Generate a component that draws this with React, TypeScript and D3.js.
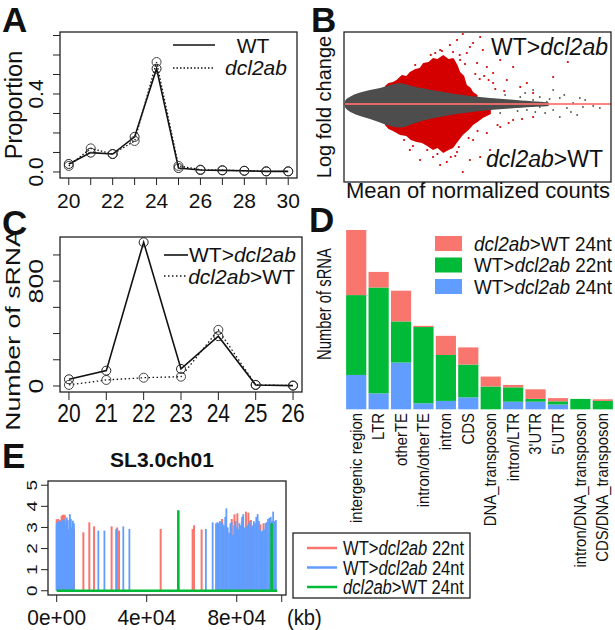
import React from 'react';
import * as d3 from 'd3';

const FONT = "'Liberation Sans', Arial, Helvetica, sans-serif";

// ---------- Panel A ----------
const lenA = [20, 21, 22, 23, 24, 25, 26, 27, 28, 29, 30];
const propWT = [0.041, 0.099, 0.092, 0.18, 0.53, 0.02, 0.01, 0.008, 0.006, 0.003, 0.003];
const propDcl = [0.031, 0.121, 0.092, 0.159, 0.564, 0.031, 0.012, 0.009, 0.006, 0.003, 0.003];
const tickAy = [0, 0.1, 0.2, 0.3, 0.4, 0.5, 0.6, 0.7];
const labAy = [0, 0.4];
const labAx = [20, 22, 24, 26, 28, 30];

// ---------- Panel B (MA plot) ----------
const maX = [0.02, 0.05, 0.1, 0.25, 0.47, 0.7, 0.92, 1.08, 1.26, 1.48, 1.71, 2.04, 2.38, 2.83, 3.28, 3.73, 4.25, 4.6];
const maGrayUp = [0.3, 0.5, 0.65, 1.0, 1.3, 1.5, 1.73, 1.95, 2.17, 1.85, 1.6, 1.35, 1.07, 0.8, 0.6, 0.45, 0.25, 0.15];
const maGrayLo = [-0.3, -0.5, -0.7, -1.05, -1.35, -1.65, -2.05, -2.25, -2.43, -2.1, -1.7, -1.4, -1.1, -0.8, -0.6, -0.45, -0.3, -0.2];
const maRedUpX = [0.92, 1.0, 1.1, 1.18, 1.3, 1.4, 1.48, 1.6, 1.7, 1.78, 1.9, 2.0, 2.1, 2.23, 2.35, 2.46, 2.55, 2.61, 2.7, 2.76, 2.85, 2.9, 3.0];
const maRedUpY = [1.8, 2.1, 2.2, 2.4, 2.9, 2.8, 3.2, 3.5, 3.6, 4.1, 4.2, 4.6, 4.5, 4.9, 4.5, 4.6, 3.9, 3.2, 2.8, 1.9, 1.6, 1.2, 0.9];
const maRedLoX = [0.92, 1.0, 1.1, 1.26, 1.4, 1.5, 1.63, 1.75, 1.87, 2.0, 2.1, 2.23, 2.35, 2.45, 2.55, 2.67, 2.8, 2.9, 3.0, 3.12, 3.3];
const maRedLoY = [-2.1, -2.5, -2.7, -3.1, -3.2, -3.6, -3.8, -3.9, -4.2, -4.6, -4.4, -4.9, -4.6, -4.4, -3.8, -3.1, -2.6, -2.1, -1.8, -1.4, -1.0];
const redDotX = [2.9, 3.06, 2.76, 2.61, 3.12, 3.21, 3.35, 3.51, 3.66, 3.8, 3.96, 4.11, 4.25, 4.7, 5.03, 3.35, 2.99, 2.83, 2.54, 2.67, 2.38, 2.16,
  2.31, 2.67, 2.0, 1.87, 2.9, 3.21, 3.51, 3.8, 4.25, 2.16, 2.54, 3.06, 2.83, 3.28, 1.71, 1.48, 3.15, 3.4, 2.5, 3.7,
  2.05, 2.2, 2.45, 2.6, 2.72, 2.95, 3.05, 3.25, 1.95, 1.6, 2.8, 3.0, 3.45, 2.4, 2.58, 2.1, 1.55, 1.35, 3.6, 4.0];
const redDotY = [6.1, 6.7, 5.1, 4.4, 5.4, 3.7, 3.1, 4.4, 2.4, 3.7, 1.7, 2.1, 1.1, 2.7, 4.2, 2.1, 4.1, 5.7, 6.4, 7.0, 5.9, 5.4,
  -5.8, -6.8, -5.3, -4.6, -3.6, -2.9, -2.3, -1.6, -1.3, -6.1, -4.8, -5.3, -5.6, -4.6, -5.6, -4.6, 2.8, 1.5, -5.2, -1.9,
  5.1, 5.3, 5.2, 4.9, 4.0, 3.0, 2.5, 2.4, 4.9, 3.9, -3.4, -2.7, -2.1, -5.3, -4.3, -5.0, -4.2, -3.6, 1.3, -1.5];
const grayDotX = [4.25, 4.4, 4.56, 4.7, 4.85, 5.01, 5.15, 5.37, 5.6, 5.75, 4.7, 4.85, 5.24, 4.25, 4.11, 3.96, 3.8, 4.4, 3.62, 3.51, 5.42, 4.52, 4.07, 4.95, 5.1, 3.9, 4.62, 5.3, 4.3];
const grayDotY = [0.4, -0.3, 0.2, -0.6, 0.6, -0.4, 0.1, -0.3, -0.2, -0.4, 1.4, -1.3, -1.1, 1.4, -0.6, 0.7, -0.3, 0.7, 0.9, -0.9, 0.4, -0.9, 1.1, 0.9, -0.8, -0.7, 0.5, 0.6, -0.8];

// ---------- Panel C ----------
const lenC = [20, 21, 22, 23, 24, 25, 26];
const cntWTgt = [51, 117, 1097, 130, 380, 8, 3];
const cntDclGt = [8, 46, 63, 71, 428, 8, 3];
const tickCy = [0, 200, 400, 600, 800, 1000];
const labCy = [0, 800];

// ---------- Panel D ----------
const regions = ['intergenic region', 'LTR', 'otherTE', 'intron/otherTE', 'intron', 'CDS', 'DNA_transposon', 'intron/LTR', "3'UTR", "5'UTR", 'intron/DNA_transposon', 'CDS/DNA_transposon'];
const dWT24 = [86, 40, 117, 15, 21, 30, 0, 19, 19, 12, 0, 0];
const dWT22 = [200, 265, 103, 191, 115, 82, 57, 36, 7, 8, 26, 21];
const dDcl24 = [163, 39, 77, 3, 48, 43, 25, 6, 24, 8, 0, 4];

// ---------- Panel E ----------
const e22Pos = [0, 700, 1400, 2200, 2700, 3200, 3600, 4400, 4900, 7700, 11850, 14500, 16600, 24400, 26900, 27700, 46200, 60400, 61000, 64400,
  71400, 73500, 75000, 77800, 79000, 80300, 82300, 84100, 85200, 86300, 88700, 90500, 91900];
const e22Val = [3.39, 3.4, 3.35, 3.55, 3.6, 3.6, 3.58, 2.93, 2.9, 2.93, 2.77, 3.24, 3.05, 3.05, 3.0, 2.85, 2.93, 2.93, 3.1, 2.9,
  3.0, 3.4, 3.0, 3.4, 3.62, 3.67, 3.3, 3.75, 3.7, 3.35, 3.2, 3.15, 3.2];
const e24Pos = [0, 450, 900, 1350, 1800, 2250, 2700, 3150, 3600, 4050, 4500, 4950, 5400, 5850, 6300, 6750, 7200, 7650,
  18500, 21200, 26400, 29600, 32300, 66300, 69300,
  70800, 71400, 72000, 72500, 73100, 73700, 74300, 74900, 75400, 76000, 76600, 77200, 77700, 78300, 78900, 79500, 80100, 80600, 81200, 81800,
  82400, 82900, 83500, 84100, 84700, 85300, 85800, 86400, 87000, 87600, 88100, 88700, 89300, 89900, 90500, 91000, 91600, 92200, 92800, 93300,
  93900, 94500, 95100, 95700, 96200, 96800, 97400];
const e24Val = [3.2, 3.25, 3.3, 3.3, 3.25, 3.3, 3.35, 3.4, 3.3, 3.1, 3.47, 3.35, 2.9, 3.63, 3.4, 3.0, 3.32, 3.2,
  2.85, 2.85, 2.93, 3.05, 2.93, 2.93, 3.24,
  3.2, 3.25, 3.2, 3.3, 3.28, 3.2, 3.1, 3.5, 3.9, 3.0, 2.75, 3.2, 3.25, 2.65, 3.1, 3.3, 3.0, 2.9, 3.2, 3.1,
  3.5, 3.63, 3.0, 2.95, 3.1, 3.2, 3.3, 3.0, 3.1, 3.3, 3.2, 3.5, 3.63, 3.3, 2.9, 2.8, 2.85, 2.9, 3.2, 3.25,
  3.4, 3.45, 3.5, 3.3, 3.75, 3.3, 3.35];
const eDclPos = [0, 54000, 54050, 54100, 95450, 95500, 95550, 98000];
const eDclVal = [0, 0, 3.82, 0, 0, 3.2, 0, 0];
const tickEy = [0, 1, 2, 3, 4, 5];
const tickEx = [0, 40000, 80000, 100000];
const labEx = [0, 40000, 80000];

const PINK = '#F8766D';
const GREEN = '#00BA38';
const BLUE = '#619CFF';

type TP = { x: number; y: number; size: number; anchor?: string; rot?: number; sx?: number; sy?: number; weight?: string; dy?: string; children: any };
function Txt({ x, y, size, anchor = 'start', rot = 0, sx = 1, sy = 1, weight = 'normal', dy, children }: TP) {
  return (
    <g transform={`translate(${x},${y}) scale(${sx},${sy}) rotate(${rot})`}>
      <text fontSize={size} textAnchor={anchor} fontWeight={weight} dy={dy} fontFamily={FONT} fill="#111">{children}</text>
    </g>
  );
}
const I = ({ children }: any) => <tspan fontStyle="italic">{children}</tspan>;

export default function App() {
  // Panel A
  const xA = d3.scaleLinear().domain([19.6, 30.4]).range([60, 297]);
  const yA = d3.scaleLinear().domain([-0.031, 0.718]).range([178, 32]);
  const lineA = d3.line<number>().x((_, i) => xA(lenA[i])).y((d) => yA(d));

  // Panel B
  const xB = d3.scaleLinear().domain([0, 6]).range([344, 611]);
  const yB = d3.scaleLinear().domain([-7.8, 7.2]).range([182, 32]);
  const grayArea = d3.area<number>().x((_, i) => xB(maX[i])).y0((_, i) => yB(maGrayLo[i])).y1((d) => yB(d)).curve(d3.curveBasis);
  const redUp = d3.area<number>().x((_, i) => xB(maRedUpX[i])).y0(yB(0)).y1((d) => yB(d));
  const redLo = d3.area<number>().x((_, i) => xB(maRedLoX[i])).y0(yB(0)).y1((d) => yB(d));

  // Panel C
  const xC = d3.scaleLinear().domain([19.76, 26.24]).range([60, 302]);
  const yC = d3.scaleLinear().domain([-46, 1137]).range([392, 237]);
  const lineC = d3.line<number>().x((_, i) => xC(lenC[i])).y((d) => yC(d));

  // Panel D
  const xD = d3.scaleBand<string>().domain(regions).range([345, 614]).paddingInner(0.1).paddingOuter(0.05);
  const yD = d3.scaleLinear().domain([0, 449]).range([409.3, 230]);
  const rows = regions.map((r, i) => ({ r, b: dWT24[i], g: dWT22[i], p: dDcl24[i] }));
  const stack = d3.stack<any>().keys(['b', 'g', 'p'])(rows);
  const stackCol: Record<string, string> = { b: BLUE, g: GREEN, p: PINK };
  const legD = [
    { c: PINK, t: <><I>dcl2ab</I>&gt;WT 24nt</> },
    { c: GREEN, t: <>WT&gt;<I>dcl2ab</I> 22nt</> },
    { c: BLUE, t: <>WT&gt;<I>dcl2ab</I> 24nt</> },
  ];

  // Panel E
  const xE = d3.scaleLinear().domain([-3866, 101900]).range([48, 286]);
  const yE = d3.scaleLinear().domain([-0.2, 5.2]).range([595, 481]);
  const lineE = d3.line<number>().x((_, i) => xE(eDclPos[i])).y((d) => yE(d));
  const legE = [
    { c: PINK, t: <>WT&gt;<I>dcl2ab</I> 22nt</> },
    { c: BLUE, t: <>WT&gt;<I>dcl2ab</I> 24nt</> },
    { c: GREEN, t: <><I>dcl2ab</I>&gt;WT 24nt</> },
  ];

  const axisStroke = '#222';

  return (
    <svg width={615} height={630} style={{ position: 'absolute', left: 0, top: 0, background: '#fff' }} fontFamily={FONT}>
      <rect width={615} height={630} fill="#fff" />
      <defs>
        <clipPath id="clipB"><rect x={344} y={32} width={267} height={150} /></clipPath>
        <clipPath id="clipE"><rect x={48} y={481} width={238} height={114} /></clipPath>
      </defs>

      {/* ===== Panel A ===== */}
      <Txt x={2} y={32} size={35} weight="bold">A</Txt>
      {lenA.map((v) => <line key={'ax' + v} x1={xA(v)} x2={xA(v)} y1={178} y2={185} stroke={axisStroke} />)}
      {labAx.map((v) => <Txt key={'axl' + v} x={xA(v)} y={208} size={21} anchor="middle">{v}</Txt>)}
      {tickAy.map((v) => <line key={'ay' + v} x1={60} x2={53} y1={yA(v)} y2={yA(v)} stroke={axisStroke} />)}
      {labAy.map((v) => <Txt key={'ayl' + v} x={43} y={yA(v)} size={21} anchor="middle" rot={-90}>{v.toFixed(1)}</Txt>)}
      <Txt x={21.5} y={105} size={23.5} anchor="middle" rot={-90}>Proportion</Txt>
      <path d={lineA(propDcl) || ''} fill="none" stroke="#111" strokeWidth={1.3} strokeDasharray="1.5,2" />
      <path d={lineA(propWT) || ''} fill="none" stroke="#111" strokeWidth={1.6} />
      {propDcl.map((d, i) => <circle key={'cd' + i} cx={xA(lenA[i])} cy={yA(d)} r={4.5} fill="none" stroke="#444" strokeWidth={1} />)}
      {propWT.map((d, i) => <circle key={'cw' + i} cx={xA(lenA[i])} cy={yA(d)} r={4.5} fill="none" stroke="#222" strokeWidth={1} />)}
      <line x1={173} x2={215} y1={45} y2={45} stroke="#111" strokeWidth={1.6} />
      <line x1={173} x2={215} y1={68} y2={68} stroke="#111" strokeWidth={1.3} strokeDasharray="1.5,2" />
      <Txt x={253} y={53} size={21} anchor="middle">WT</Txt>
      <Txt x={256} y={75} size={21} anchor="middle"><I>dcl2ab</I></Txt>
      <rect x={60} y={32} width={237} height={146} fill="none" stroke={axisStroke} strokeWidth={1.3} />

      {/* ===== Panel B ===== */}
      <Txt x={311} y={32} size={35} weight="bold">B</Txt>
      <g clipPath="url(#clipB)">
        <path d={redUp(maRedUpY) || ''} fill="#D40000" />
        <path d={redLo(maRedLoY) || ''} fill="#D40000" />
        {redDotX.map((x, i) => <circle key={'rd' + i} cx={xB(x)} cy={yB(redDotY[i])} r={1.1} fill="#D40000" />)}
        <path d={grayArea(maGrayUp) || ''} fill="#4D4D4D" />
        {grayDotX.map((x, i) => <circle key={'gd' + i} cx={xB(x)} cy={yB(grayDotY[i])} r={0.9} fill="#4D4D4D" />)}
        <line x1={xB(0)} x2={xB(6)} y1={yB(0)} y2={yB(0)} stroke="#FF6F6F" strokeWidth={1.8} opacity={0.85} />
      </g>
      <rect x={344} y={32} width={267} height={150} fill="none" stroke={axisStroke} strokeWidth={1.3} />
      <Txt x={608} y={55} size={23} anchor="end">WT&gt;<I>dcl2ab</I></Txt>
      <Txt x={603} y={167} size={23} anchor="end"><I>dcl2ab</I>&gt;WT</Txt>
      <Txt x={331} y={107} size={20} anchor="middle" rot={-90}>Log fold change</Txt>
      <Txt x={478} y={198} size={22} anchor="middle">Mean of normalized counts</Txt>

      {/* ===== Panel C ===== */}
      <Txt x={2} y={235} size={35} weight="bold">C</Txt>
      {lenC.map((v) => <line key={'cx' + v} x1={xC(v)} x2={xC(v)} y1={392} y2={400} stroke={axisStroke} />)}
      {lenC.map((v) => <Txt key={'cxl' + v} x={xC(v)} y={422} size={21} sy={1.27} anchor="middle">{v}</Txt>)}
      {tickCy.map((v) => <line key={'cy' + v} x1={60} x2={53} y1={yC(v)} y2={yC(v)} stroke={axisStroke} />)}
      {labCy.map((v) => <Txt key={'cyl' + v} x={43} y={yC(v)} size={21} sy={1.27} anchor="middle" rot={-90}>{v}</Txt>)}
      <Txt x={20} y={330} size={21} sy={1.27} anchor="middle" rot={-90}>Number of sRNA</Txt>
      <path d={lineC(cntDclGt) || ''} fill="none" stroke="#111" strokeWidth={1.3} strokeDasharray="1.5,2.5" />
      <path d={lineC(cntWTgt) || ''} fill="none" stroke="#111" strokeWidth={1.6} />
      {cntDclGt.map((d, i) => <circle key={'ccd' + i} cx={xC(lenC[i])} cy={yC(d)} r={4.5} fill="none" stroke="#444" strokeWidth={1} />)}
      {cntWTgt.map((d, i) => <circle key={'ccw' + i} cx={xC(lenC[i])} cy={yC(d)} r={4.5} fill="none" stroke="#222" strokeWidth={1} />)}
      <line x1={164} x2={188} y1={255} y2={255} stroke="#111" strokeWidth={1.6} />
      <line x1={164} x2={188} y1={276} y2={276} stroke="#111" strokeWidth={1.3} strokeDasharray="1.5,2.5" />
      <Txt x={189} y={262} size={21}>WT&gt;<I>dcl2ab</I></Txt>
      <Txt x={295} y={284} size={21} anchor="end"><I>dcl2ab</I>&gt;WT</Txt>
      <rect x={60} y={237} width={242} height={155} fill="none" stroke={axisStroke} strokeWidth={1.3} />

      {/* ===== Panel D ===== */}
      <Txt x={309} y={232} size={35} weight="bold">D</Txt>
      {stack.map((s) => (
        <g key={s.key} fill={stackCol[s.key]}>
          {s.map((d, i) => (
            <rect key={i} x={xD(regions[i])} width={xD.bandwidth()} y={yD(d[1])} height={Math.max(0, yD(d[0]) - yD(d[1]))} />
          ))}
        </g>
      ))}
      {regions.map((r) => (
        <Txt key={'dl' + r} x={(xD(r) || 0) + xD.bandwidth() / 2} y={413} size={16} sy={0.93} anchor="end" rot={-90} dy="0.35em">{r}</Txt>
      ))}
      <Txt x={331} y={304} size={20} sy={0.74} anchor="middle" rot={-90}>Number of sRNA</Txt>
      {legD.map((l, i) => (
        <g key={'ld' + i}>
          <rect x={435} y={236 + i * 21.5} width={27} height={15} fill={l.c} />
          <Txt x={474} y={250.5 + i * 21.5} size={21} sx={0.9}>{l.t}</Txt>
        </g>
      ))}

      {/* ===== Panel E ===== */}
      <Txt x={2} y={468} size={35} weight="bold">E</Txt>
      <Txt x={162} y={467} size={21} weight="bold" anchor="middle">SL3.0ch01</Txt>
      <g clipPath="url(#clipE)">
        {e22Pos.map((p, i) => <line key={'e22' + i} x1={xE(p)} x2={xE(p)} y1={yE(0)} y2={yE(e22Val[i])} stroke={PINK} strokeWidth={2} />)}
        {e24Pos.map((p, i) => <line key={'e24' + i} x1={xE(p)} x2={xE(p)} y1={yE(0)} y2={yE(e24Val[i])} stroke={BLUE} strokeWidth={1.8} />)}
        <path d={lineE(eDclVal) || ''} fill="none" stroke={GREEN} strokeWidth={2.5} />
      </g>
      <rect x={48} y={481} width={238} height={114} fill="none" stroke={axisStroke} strokeWidth={1.3} />
      {tickEy.map((v) => <line key={'ey' + v} x1={48} x2={41} y1={yE(v)} y2={yE(v)} stroke={axisStroke} />)}
      {tickEy.map((v) => <Txt key={'eyl' + v} x={37} y={yE(v)} size={19} sx={0.8} anchor="middle" rot={-90}>{v}</Txt>)}
      {tickEx.map((v) => <line key={'ex' + v} x1={xE(v)} x2={xE(v)} y1={595} y2={602} stroke={axisStroke} />)}
      {labEx.map((v) => (
        <Txt key={'exl' + v} x={xE(v)} y={625} size={22} sx={0.95} anchor="middle">{v === 0 ? '0e+00' : `${v / 10000}e+04`}</Txt>
      ))}
      <Txt x={287} y={625} size={22} sx={0.92}>(kb)</Txt>
      <rect x={293} y={533} width={177} height={65} fill="#fff" stroke={axisStroke} strokeWidth={1.3} />
      {legE.map((l, i) => (
        <g key={'le' + i}>
          <line x1={307} x2={337} y1={548 + i * 19.5} y2={548 + i * 19.5} stroke={l.c} strokeWidth={2.5} />
          <Txt x={343} y={555 + i * 19.5} size={21} sx={0.79}>{l.t}</Txt>
        </g>
      ))}
    </svg>
  );
}
